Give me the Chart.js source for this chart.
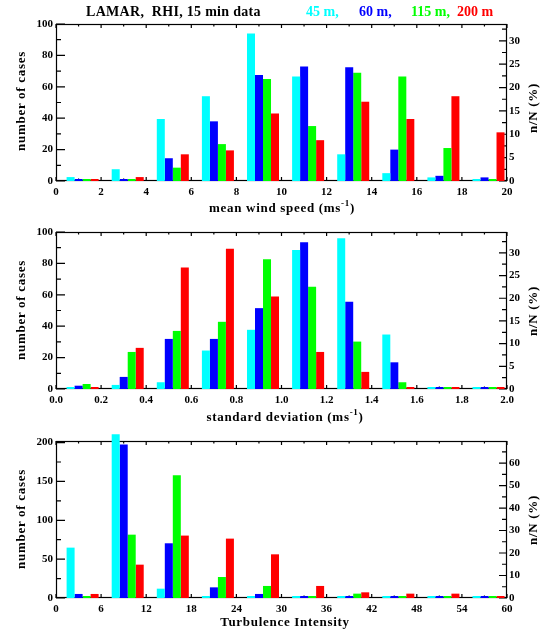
<!DOCTYPE html>
<html>
<head>
<meta charset="utf-8">
<script src="https://cdn.jsdelivr.net/npm/chart.js@4.4.1/dist/chart.umd.min.js"></script>
<style>
body { margin: 0; background: #fff; }
#fig { position: relative; width: 542px; height: 634px; overflow: hidden;
       font-family: "Liberation Serif", serif; font-weight: bold; color: #000; }
#fig canvas { position: absolute; left: 0; }
.lbl { position: absolute; white-space: pre; font-size: 13px; letter-spacing: 0.7px;
       transform: translate(-50%, -50%); z-index: 2; }
.rot { transform: translate(-50%, -50%) rotate(-90deg); }
.head { position: absolute; top: 4px; font-size: 14px; white-space: pre; z-index: 2; }
</style>
</head>
<body>
<div id="fig">
  <span class="head" style="left:86px;letter-spacing:0.3px">LAMAR,  RHI, 15 min data</span>
  <span class="head" style="left:306px;color:#00ffff">45 m,</span>
  <span class="head" style="left:359px;color:#0000ff">60 m,</span>
  <span class="head" style="left:411px;color:#00ff00">115 m,</span>
  <span class="head" style="left:457px;color:#ff0000">200 m</span>

  <canvas id="windChart" width="542" height="200" style="top:10px"></canvas>
  <canvas id="sigmaChart" width="542" height="200" style="top:218px"></canvas>
  <canvas id="tiChart" width="542" height="200" style="top:427px"></canvas>

  <span class="lbl rot" style="left:21px;top:101px">number of cases</span>
  <span class="lbl rot" style="left:533px;top:108px">n/N (%)</span>
  <span class="lbl" style="left:282px;top:207px">mean wind speed (ms<sup style="font-size:9px">-1</sup>)</span>

  <span class="lbl rot" style="left:21px;top:310px">number of cases</span>
  <span class="lbl rot" style="left:533px;top:311px">n/N (%)</span>
  <span class="lbl" style="left:285px;top:416px">standard deviation (ms<sup style="font-size:9px">-1</sup>)</span>

  <span class="lbl rot" style="left:21px;top:519px">number of cases</span>
  <span class="lbl rot" style="left:533px;top:520px">n/N (%)</span>
  <span class="lbl" style="left:285px;top:622px">Turbulence Intensity</span>
</div>
<script>
// heights of the measurement levels
const levels = ["45 m", "60 m", "115 m", "200 m"]
const levelColors = ["#00ffff", "#0000ff", "#00ff00", "#ff0000"]

// mean wind speed (m/s), bin centres
const windBins = [1, 3, 5, 7, 9, 11, 13, 15, 17, 19]
const wind45 = [2.5, 7.5, 39.5, 54, 94, 66.5, 17, 5, 2.3, 0]
const wind60 = [0.5, 1, 14.5, 38, 67.5, 73, 72.5, 20, 3.3, 2.3]
const wind115 = [0, 0, 8.5, 23.5, 65, 35, 69, 66.5, 21, 0]
const wind200 = [0, 2.5, 17, 19.5, 43, 26, 50.5, 39.5, 54, 31]

// standard deviation (m/s), bin centres
const sigmaBins = [0.1, 0.3, 0.5, 0.7, 0.9, 1.1, 1.3, 1.5, 1.7, 1.9]
const sigma45 = [0, 2.6, 4.3, 24.5, 37.7, 88.5, 96, 34.7, 0, 0]
const sigma60 = [2.1, 7.7, 31.9, 31.9, 51.5, 93.4, 55.5, 17, 0.5, 0.5]
const sigma115 = [3.2, 23.6, 37, 42.8, 82.6, 65.1, 30.2, 4.3, 0, 0]
const sigma200 = [0, 26.2, 77.4, 89.4, 58.9, 23.6, 10.9, 0.9, 0, 0]

// turbulence intensity, bin centres
const tiBins = [3, 9, 15, 21, 27, 33, 39, 45, 51, 57]
const ti45 = [64.8, 210.7, 12, 1.7, 1.7, 0, 0, 0, 0, 0]
const ti60 = [5.2, 197.4, 70.4, 13.7, 5.2, 1.7, 0.5, 1.7, 1.7, 0]
const ti115 = [1.7, 81.5, 158, 27, 15.5, 1.7, 5.6, 1.7, 1.7, 1.7]
const ti200 = [5.2, 42.9, 80.3, 76.4, 56.2, 15.5, 7.3, 5.6, 5.6, 1.7]

// the bar groups sit a bit right of the bin centre in the original plot
const groupShift = 0.09

Chart.defaults.font.family = "'Liberation Serif', serif"
Chart.defaults.font.weight = "bold"
Chart.defaults.font.size = 11
Chart.defaults.color = "#000"

// box round the plot with inward ticks on all four sides (IDL style)
const frameTicks = {
    id: "frameTicks",
    beforeDatasetsDraw(chart, args, o) {
        const ctx = chart.ctx
        const a = chart.chartArea
        const sx = chart.scales.x, sy = chart.scales.y, sr = chart.scales.y2
        ctx.save()
        ctx.strokeStyle = "#000"
        ctx.lineWidth = 1.2
        ctx.strokeRect(a.left + 0.5, a.top + 0.5, a.right - a.left - 1, a.bottom - a.top - 1)

        function marks(scale, major, minor, draw) {
            const n = Math.floor((scale.max - scale.min) / minor + 1e-6)
            for (let i = 0; i <= n; i++) {
                const v = scale.min + i * minor
                const isMajor = Math.abs(v / major - Math.round(v / major)) < 1e-6
                draw(scale.getPixelForValue(v), isMajor)
            }
        }
        ctx.beginPath()
        marks(sx, o.xMajor, o.xMinor, (p, big) => {
            const len = big ? 4 : 2.5
            ctx.moveTo(p, a.bottom); ctx.lineTo(p, a.bottom - len)
            ctx.moveTo(p, a.top); ctx.lineTo(p, a.top + len)
        })
        marks(sy, o.yMajor, o.yMinor, (p, big) => {
            ctx.moveTo(a.left, p); ctx.lineTo(a.left + (big ? 9 : 5), p)
        })
        marks(sr, o.rMajor, o.rMinor, (p, big) => {
            ctx.moveTo(a.right, p); ctx.lineTo(a.right - (big ? 8 : 5), p)
        })
        ctx.stroke()
        ctx.restore()
    }
}

// fixed tick list 0, step, 2*step ... up to max
function fixedTicks(step) {
    return function (s) {
        const t = []
        for (let i = 0; i * step <= s.max + 1e-9; i++) {
            t.push({ value: Math.round(i * step * 1e6) / 1e6 })
        }
        s.ticks = t
    }
}

function makePanel(id, bins, binWidth, series, cfg) {
    const noGrid = { display: false, drawTicks: false, offset: false }
    return new Chart(document.getElementById(id), {
        type: "bar",
        data: {
            datasets: series.map((vals, k) => ({
                label: levels[k],
                data: bins.map((c, i) => ({ x: c + groupShift * binWidth, y: vals[i] })),
                backgroundColor: levelColors[k],
                borderWidth: 0,
                categoryPercentage: 0.71,
                barPercentage: 1,
                minBarLength: 2,
                clip: false,
                yAxisID: "y"
            }))
        },
        options: {
            responsive: false,
            animation: false,
            layout: { padding: { top: 14, left: 0, right: 0, bottom: 0 } },
            plugins: {
                legend: { display: false },
                tooltip: { enabled: false },
                frameTicks: cfg.marks
            },
            scales: {
                x: {
                    type: "linear",
                    offset: false,
                    min: 0,
                    max: cfg.xMax,
                    grid: noGrid,
                    border: { display: false },
                    ticks: {
                        autoSkip: false,
                        maxRotation: 0,
                        padding: 5,
                        callback: v => v.toFixed(cfg.xDigits)
                    },
                    afterBuildTicks: fixedTicks(cfg.xStep),
                    afterFit(s) { s.height = 29 }
                },
                y: {
                    position: "left",
                    min: 0,
                    max: cfg.yMax,
                    grid: noGrid,
                    border: { display: false },
                    ticks: { padding: 3 },
                    afterBuildTicks: fixedTicks(cfg.yStep),
                    afterFit(s) { s.width = 56 }
                },
                y2: {
                    position: "right",
                    display: true,
                    min: 0,
                    max: cfg.rMax,
                    grid: noGrid,
                    border: { display: false },
                    ticks: { padding: 2 },
                    afterBuildTicks: fixedTicks(cfg.rStep),
                    afterFit(s) { s.width = 35 }
                }
            }
        },
        plugins: [frameTicks]
    })
}

makePanel("windChart", windBins, 2, [wind45, wind60, wind115, wind200], {
    xMax: 20, xStep: 2, xDigits: 0, yMax: 100, yStep: 20, rMax: 33.6, rStep: 5,
    marks: { xMajor: 2, xMinor: 1, yMajor: 20, yMinor: 10, rMajor: 5, rMinor: 2.5 }
})

makePanel("sigmaChart", sigmaBins, 0.2, [sigma45, sigma60, sigma115, sigma200], {
    xMax: 2, xStep: 0.2, xDigits: 1, yMax: 100, yStep: 20, rMax: 34.6, rStep: 5,
    marks: { xMajor: 0.2, xMinor: 0.1, yMajor: 20, yMinor: 10, rMajor: 5, rMinor: 2.5 }
})

makePanel("tiChart", tiBins, 6, [ti45, ti60, ti115, ti200], {
    xMax: 60, xStep: 6, xDigits: 0, yMax: 202, yStep: 50, rMax: 69.8, rStep: 10,
    marks: { xMajor: 6, xMinor: 3, yMajor: 50, yMinor: 25, rMajor: 10, rMinor: 5 }
})
</script>
</body>
</html>
